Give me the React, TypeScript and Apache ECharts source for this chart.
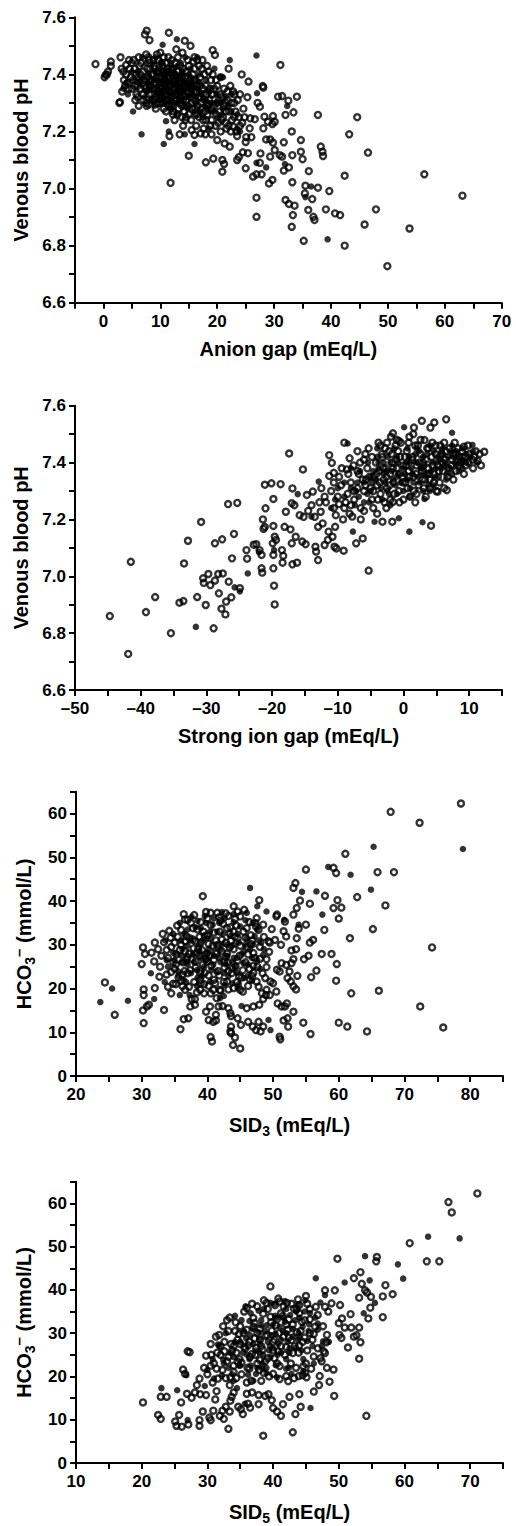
import React, { useEffect, useRef } from "react";
import * as echarts from "echarts";

// Panel 1: Anion gap vs venous pH
const agOpen: number[][] = [
[-1.4,7.436],[0.4,7.398],[0.8,7.41],[1.3,7.43],[1.3,7.445],[0.6,7.40],[0.2,7.39],[2.8,7.30],[2.9,7.303],[3.0,7.46],[4.0,7.433],[3.5,7.41],[3.3,7.34],[4.2,7.37],[4.5,7.45],[5.0,7.44],[5.5,7.42],[5.0,7.35],[5.8,7.33],[6.2,7.46],[6.5,7.40],[7.0,7.33],[7.2,7.38],[7.5,7.30],[7.6,7.553],[7.3,7.54],[8.1,7.52],[8.0,7.45],[8.3,7.36],[8.7,7.31],[9.0,7.42],[9.3,7.39],[9.6,7.34],[10.0,7.476],[10.2,7.44],[10.4,7.30],[10.8,7.38],[11.0,7.35],[11.5,7.546],[11.3,7.42],[11.6,7.184],[11.8,7.02],[12.0,7.32],[12.3,7.27],[12.5,7.40],[12.8,7.488],[13.0,7.36],[13.4,7.19],[13.5,7.30],[13.9,7.476],[14.0,7.42],[14.3,7.518],[14.5,7.25],[14.8,7.34],[15.0,7.115],[15.3,7.50],[15.5,7.205],[15.8,7.445],[15.6,7.28],[16.0,7.188],[16.2,7.38],[16.5,7.26],[16.8,7.43],[17.1,7.193],[17.0,7.32],[17.5,7.24],[18.0,7.092],[18.2,7.30],[18.5,7.41],[18.8,7.22],[19.2,7.485],[19.3,7.105],[19.6,7.468],[19.5,7.35],[19.8,7.26],[20.0,7.17],[20.3,7.31],[20.6,7.20],[20.9,7.10],[20.9,7.059],[21.2,7.086],[21.3,7.158],[21.5,7.27],[21.8,7.34],[22.2,7.147],[22.5,7.30],[22.8,7.217],[23.0,7.25],[23.5,7.184],[23.5,7.10],[23.8,7.11],[24.0,7.33],[24.3,7.40],[24.5,7.127],[24.6,7.28],[25.0,7.071],[25.0,7.163],[25.1,7.18],[25.4,7.124],[25.3,7.32],[25.5,7.375],[25.7,7.211],[25.8,7.246],[26.0,7.18],[26.3,7.042],[26.6,7.243],[26.9,7.05],[26.9,6.968],[26.9,6.901],[27.1,7.30],[27.5,7.287],[27.5,7.09],[27.6,7.123],[27.8,7.05],[28.0,7.359],[28.1,7.354],[28.1,7.211],[28.3,7.252],[28.6,7.172],[28.9,7.234],[29.1,7.018],[29.3,7.172],[29.3,7.112],[29.7,7.03],[29.7,7.226],[29.8,7.254],[29.8,7.161],[30.1,7.234],[30.1,7.135],[30.7,7.322],[31.0,7.117],[31.1,7.433],[31.4,7.324],[31.4,7.112],[31.7,7.162],[31.7,7.063],[32.0,7.258],[32.0,6.96],[32.5,7.308],[32.6,7.074],[32.6,6.946],[33.1,7.20],[33.1,6.866],[33.2,7.117],[33.2,7.022],[33.3,6.907],[33.4,7.267],[33.6,6.94],[34.0,7.322],[34.7,7.17],[34.7,7.129],[35.0,7.103],[35.2,6.817],[35.4,6.983],[35.5,7.01],[36.0,6.925],[36.1,7.061],[36.7,6.963],[36.9,6.901],[37.1,6.89],[37.7,7.003],[37.7,7.258],[38.2,7.147],[38.5,7.129],[38.6,7.114],[39.1,6.927],[39.7,6.991],[40.7,6.913],[41.6,6.907],[42.4,7.045],[42.4,6.80],[43.2,7.19],[44.6,7.25],[45.9,6.874],[46.5,7.126],[47.9,6.927],[49.9,6.728],[53.8,6.86],[56.4,7.05],[63.1,6.975],
[5.2,7.38],[5.7,7.40],[6.0,7.36],[6.3,7.43],[6.8,7.37],[7.0,7.41],[7.4,7.35],[7.8,7.39],[8.0,7.33],[8.2,7.42],[8.5,7.38],[8.8,7.35],[9.0,7.37],[9.2,7.32],[9.5,7.41],[9.8,7.37],[10.0,7.39],[10.3,7.35],[10.5,7.41],[10.6,7.33],[10.9,7.37],[11.2,7.39],[11.4,7.31],[11.6,7.36],[11.9,7.34],[12.1,7.38],[12.2,7.42],[12.6,7.35],[12.9,7.31],[13.1,7.39],[13.3,7.34],[13.6,7.37],[13.8,7.29],[14.1,7.35],[14.3,7.39],[14.6,7.31],[14.9,7.37],[15.1,7.33],[15.4,7.36],[15.7,7.40],[16.0,7.31],[16.3,7.34],[16.6,7.29],[17.0,7.36],[17.3,7.28],[17.6,7.33],[18.0,7.36],[18.3,7.26],[18.6,7.31],[19.0,7.24],[19.4,7.29],[19.8,7.38],[20.2,7.23],[20.5,7.33],[21.0,7.25],[21.5,7.30],[22.0,7.22],[22.3,7.36],[23.0,7.30],[23.4,7.20],[24.0,7.22],[9.6,7.45],[11.0,7.44],[12.0,7.45],[13.5,7.43],[15.0,7.43],[16.5,7.45],[17.8,7.40],[6.0,7.32],[7.6,7.29],[11.0,7.27],[12.5,7.24],[13.0,7.26],[14.0,7.22],[16.3,7.22],[17.9,7.19],[19.0,7.19],[21.5,7.23],[22.0,7.42],[20.6,7.39],[4.8,7.39],[3.8,7.36],[8.0,7.295],[10.2,7.32],[13.0,7.33],[15.0,7.26]
];
const agCoreOpen: number[][] = [
[7.2,7.36],[7.7,7.42],[8.1,7.38],[8.4,7.33],[8.6,7.40],[8.9,7.43],[9.1,7.35],[9.4,7.30],[9.7,7.39],[9.9,7.33],[10.1,7.36],[10.4,7.43],[10.7,7.36],[10.9,7.31],[11.1,7.41],[11.3,7.34],[11.5,7.29],[11.7,7.39],[11.9,7.42],[12.2,7.35],[12.4,7.31],[12.6,7.38],[12.8,7.33],[13.0,7.41],[13.2,7.37],[13.4,7.32],[13.6,7.34],[13.8,7.39],[14.0,7.31],[14.2,7.36],[14.5,7.41],[14.7,7.34],[14.9,7.29],[15.2,7.38],[15.4,7.32],[15.6,7.35],[15.9,7.38],[16.1,7.28],[16.4,7.36],[16.7,7.32],[17.0,7.39],[17.2,7.30],[17.5,7.35],[17.8,7.27],[18.1,7.33],[18.4,7.29],[18.7,7.35],[19.0,7.28],[19.3,7.33],[19.7,7.22],[20.0,7.30],[20.4,7.27],[20.8,7.32],[21.2,7.29],[21.6,7.21],[22.1,7.27],[22.6,7.24],[23.2,7.27],[23.8,7.25],[24.4,7.23],[10.0,7.30],[12.0,7.29],[11.0,7.33],[14.2,7.27],[6.5,7.35],[6.0,7.39],[5.5,7.36],[4.6,7.42],[4.0,7.40],[3.6,7.38],[8.8,7.45],[10.6,7.46],[7.5,7.47],[12.6,7.44],[17.3,7.42],[18.9,7.38],[16.0,7.42],[9.2,7.28],[15.5,7.30],[13.2,7.28],
[3.2,7.42],[4.4,7.35],[5.3,7.45],[6.6,7.44],[7.9,7.46],[9.4,7.47],[11.4,7.46],[13.1,7.46],[14.8,7.45],[16.0,7.46],[17.4,7.45],[18.2,7.43],[19.2,7.40],[20.0,7.36],[21.2,7.35],[22.8,7.34],[23.6,7.31],[19.0,7.33],[18.0,7.24],[16.8,7.25],[15.4,7.24],[13.8,7.25],[12.2,7.26],[10.6,7.28],[9.0,7.31],[7.0,7.31],[6.2,7.29],[5.6,7.31],[20.8,7.24],[22.4,7.20],[23.0,7.33],[24.8,7.25],[21.8,7.31],[17.6,7.21],[16.2,7.26],[14.4,7.24]
];
const agFilled: number[][] = [
[10.4,7.504],[12.9,7.523],[26.9,7.466],[22.2,7.45],[5.2,7.27],[6.7,7.19],[10.6,7.156],[11.5,7.20],[14.3,7.19],[16.0,7.156],[11.0,7.236],[13.0,7.26],[27.0,7.334],[26.9,7.09],[28.6,7.074],[32.3,7.289],[31.9,7.086],[35.5,6.97],[36.5,7.007],[39.4,6.822],[6.8,7.46],[3.5,7.35],[4.3,7.33],[7.5,7.44],[9.2,7.46],[10.3,7.40],[12.0,7.37],[13.5,7.38],[14.4,7.46],[15.5,7.35],[16.5,7.46],[17.5,7.25],[18.5,7.21],[19.5,7.42],[20.5,7.39],[21.0,7.39],[22.5,7.33],[23.5,7.21],[8.0,7.35],[11.8,7.33],[13.8,7.41],[12.5,7.30],[9.0,7.38],[14.8,7.28],[17.0,7.27],[24.0,7.20],
[8.5,7.36],[9.5,7.33],[10.0,7.37],[10.8,7.34],[11.2,7.37],[11.6,7.40],[12.3,7.33],[12.7,7.36],[13.3,7.36],[13.6,7.31],[14.0,7.34],[14.6,7.37],[15.0,7.35],[15.8,7.33],[16.5,7.35],[17.2,7.33],[18.0,7.31],[19.0,7.30],[20.0,7.25],[21.0,7.28],[9.8,7.41],[12.8,7.40],[11.3,7.31],[10.5,7.38],[13.0,7.345],[14.3,7.32],[7.8,7.37],[6.5,7.38],[16.2,7.30],[19.8,7.30]
];
const agCoreFilled: number[][] = [
[7.5,7.34],[8.0,7.40],[8.3,7.31],[8.8,7.38],[9.2,7.35],[9.6,7.38],[9.9,7.31],[10.2,7.34],[10.5,7.32],[10.8,7.40],[11.0,7.38],[11.4,7.35],[11.8,7.37],[12.0,7.31],[12.2,7.40],[12.5,7.38],[12.9,7.34],[13.2,7.39],[13.5,7.33],[13.8,7.36],[14.1,7.38],[14.4,7.35],[14.8,7.32],[15.2,7.37],[15.5,7.33],[15.9,7.36],[16.3,7.32],[16.8,7.34],[17.5,7.31],[18.2,7.28],[18.8,7.27],[19.5,7.27],[20.5,7.30],[22.0,7.29],[9.0,7.41],[10.0,7.42],[11.0,7.41],[12.0,7.42],[13.0,7.43],[14.0,7.40],[15.0,7.40],[16.0,7.38],[17.0,7.37],[7.0,7.39],[6.0,7.41],[5.5,7.38],[11.6,7.29],[13.0,7.30],[14.6,7.29],[10.0,7.335],
[4.0,7.37],[5.0,7.41],[6.2,7.37],[7.2,7.32],[8.6,7.44],[10.2,7.44],[11.8,7.44],[13.6,7.44],[15.3,7.42],[16.8,7.40],[18.0,7.38],[19.0,7.35],[20.0,7.33],[21.5,7.32],[22.5,7.27],[23.5,7.26],[17.8,7.29],[16.0,7.27],[14.2,7.29],[12.0,7.28],[10.6,7.30],[9.0,7.29],[15.4,7.39],[18.6,7.34],[20.8,7.26]
];

// Panel 2: Strong ion gap vs venous pH
const sigOpen: number[][] = [
[-44.7,6.86],[-41.9,6.727],[-41.5,7.051],[-39.2,6.874],[-37.8,6.927],[-35.4,6.80],[-34.1,6.907],[-33.5,6.913],[-33.4,7.045],[-32.8,7.125],[-31.4,6.927],[-30.8,7.191],[-30.5,6.993],[-30.4,6.977],[-30.1,6.899],[-29.7,7.008],[-29.4,6.969],[-28.7,6.985],[-28.7,7.116],[-28.9,6.817],[-28.2,7.008],[-28.1,6.94],[-27.6,7.13],[-27.5,7.01],[-27.7,6.886],[-27.1,6.866],[-27.0,6.911],[-26.7,7.254],[-26.6,6.981],[-26.2,6.926],[-26.1,7.063],[-25.8,7.149],[-24.9,6.958],[-25.3,7.258],[-23.9,7.092],[-23.8,7.062],[-22.8,7.111],[-22.4,7.113],[-21.9,7.092],[-21.6,7.075],[-21.4,7.20],[-21.1,7.174],[-21.3,7.167],[-21.6,7.028],[-21.5,7.013],[-21.0,7.239],[-21.1,7.322],[-20.1,7.327],[-19.8,7.075],[-19.9,7.116],[-19.6,7.139],[-19.8,7.177],[-19.8,7.272],[-19.4,7.128],[-19.8,7.028],[-19.7,6.967],[-19.6,6.901],[-18.7,7.324],[-17.9,7.227],[-18.1,7.174],[-18.5,7.092],[-18.3,7.072],[-18.4,7.048],[-17.4,7.432],[-16.9,7.309],[-17.0,7.257],[-16.6,7.25],[-17.2,7.165],[-17.0,7.116],[-16.9,7.042],[-16.2,7.048],[-16.4,7.139],[-15.3,7.376],[-15.8,7.215],[-15.4,7.122],[-14.9,7.113],[-15.2,7.209],[-14.7,7.286],[-13.8,7.298],[-13.4,7.104],[-13.3,7.087],[-13.0,7.057],[-13.5,7.209],[-13.0,7.174],[-12.6,7.227],[-12.3,7.186],[-11.3,7.426],[-10.9,7.399],[-11.3,7.353],[-10.6,7.364],[-11.4,7.157],[-11.5,7.128],[-12.0,7.11],[-10.8,7.139],[-10.5,7.104],[-10.2,7.098],[-9.1,7.09],[-10.4,7.174],[-9.8,7.254],[-10.3,7.215],[-9.0,7.47],[-8.6,7.376],[-8.2,7.415],[-7.2,7.116],[-6.2,7.133],[-5.3,7.02],[-5.3,7.45],[-3.2,7.192],[-1.7,7.192],[-1.6,7.262],[4.2,7.178],[5.2,7.298],[6.6,7.303],[-1.9,7.491],[-1.6,7.503],[-0.7,7.476],[0.9,7.491],[1.6,7.523],[2.8,7.547],[3.2,7.479],[4.1,7.523],[4.7,7.541],[6.5,7.552],[11.3,7.406],[12.3,7.438],[9.2,7.456],[8.5,7.421],
[-14.0,7.25],[-12.0,7.28],[-11.0,7.30],[-10.0,7.28],[-9.5,7.32],[-9.0,7.24],[-8.5,7.29],[-8.0,7.33],[-7.5,7.27],[-7.0,7.31],[-6.8,7.36],[-6.5,7.24],[-6.0,7.30],[-5.7,7.34],[-5.5,7.38],[-5.0,7.31],[-4.8,7.27],[-4.5,7.35],[-4.2,7.40],[-4.0,7.32],[-3.7,7.37],[-3.5,7.29],[-3.2,7.42],[-3.0,7.34],[-2.7,7.38],[-2.5,7.31],[-2.2,7.44],[-2.0,7.36],[-1.7,7.40],[-1.5,7.33],[-1.2,7.46],[-1.0,7.38],[-0.7,7.30],[-0.5,7.42],[-0.2,7.35],[0.0,7.39],[0.3,7.33],[0.5,7.44],[0.8,7.37],[1.0,7.28],[1.3,7.41],[1.5,7.35],[1.8,7.46],[2.0,7.39],[2.3,7.32],[2.6,7.43],[2.8,7.37],[3.0,7.40],[3.3,7.34],[3.6,7.45],[3.8,7.38],[4.0,7.31],[4.3,7.42],[4.6,7.36],[4.9,7.46],[5.2,7.39],[5.5,7.33],[5.8,7.43],[6.0,7.37],[6.3,7.41],[6.7,7.35],[7.0,7.45],[7.3,7.39],[7.6,7.43],[8.0,7.37],[8.3,7.45],[8.7,7.40],[9.0,7.42],[9.5,7.39],[10.0,7.43],[10.5,7.41],[11.0,7.44],[-2.0,7.27],[0.0,7.27],[2.0,7.29],[-7.8,7.21],[-6.5,7.20],[-4.0,7.22],[-9.2,7.20],[-3.5,7.46],[-6.0,7.41],[-8.0,7.25],[-12.5,7.31],[-14.5,7.23],[-7.0,7.37],[-1.0,7.48],[1.5,7.50],[-2.5,7.47]
];
const sigCoreOpen: number[][] = [
[-5.8,7.32],[-5.2,7.35],[-4.6,7.30],[-4.1,7.36],[-3.6,7.33],[-3.1,7.38],[-2.6,7.35],[-2.1,7.32],[-1.6,7.38],[-1.1,7.41],[-0.6,7.36],[-0.1,7.33],[0.4,7.39],[0.9,7.35],[1.4,7.42],[1.9,7.36],[2.4,7.40],[2.9,7.34],[3.4,7.41],[3.9,7.36],[4.4,7.39],[4.9,7.43],[5.4,7.37],[5.9,7.40],[6.4,7.44],[6.9,7.38],[7.4,7.41],[7.9,7.43],[8.4,7.39],[8.9,7.44],[9.4,7.42],[9.9,7.40],[-3.9,7.27],[-2.9,7.26],[-1.4,7.29],[0.6,7.31],[1.6,7.30],[3.1,7.31],[4.6,7.33],[-7.5,7.30],[-8.8,7.26],[-6.2,7.34],[-0.8,7.44],[2.2,7.46],[3.8,7.45],[5.6,7.46],[-1.8,7.43],[0.2,7.42],[-3.3,7.43],[4.0,7.34],
[-11.8,7.26],[-10.6,7.33],[-9.8,7.35],[-8.4,7.36],[-7.6,7.39],[-6.6,7.40],[-5.8,7.43],[-4.8,7.42],[-3.8,7.47],[-2.8,7.45],[-0.4,7.47],[0.8,7.47],[2.6,7.48],[4.4,7.47],[6.2,7.47],[7.8,7.47],[9.8,7.46],[10.8,7.42],[11.6,7.43],[10.6,7.38],[9.2,7.36],[7.6,7.34],[6.2,7.31],[5.0,7.30],[3.4,7.28],[1.8,7.26],[-0.6,7.26],[-2.6,7.24],[-4.6,7.24],[-6.0,7.23],[-8.2,7.22],[-10.6,7.24],[-12.8,7.26],[-9.4,7.38],[-7.0,7.44],[11.8,7.39]
];
const sigFilled: number[][] = [
[-31.6,6.822],[-25.7,6.961],[-24.9,6.947],[-23.7,7.01],[-22.0,7.085],[-19.7,7.092],[-16.1,7.289],[-12.9,7.333],[-8.5,7.467],[-7.7,7.157],[-4.4,7.192],[-2.0,7.25],[-0.7,7.204],[0.9,7.157],[2.9,7.19],[3.2,7.272],[0.1,7.524],[7.4,7.505],[10.5,7.462],[-14.0,7.21],[-11.0,7.24],[-9.0,7.28],[-6.0,7.26],[-5.0,7.35],[-3.0,7.40],[-1.0,7.35],[1.0,7.40],[3.0,7.36],[5.0,7.40],[6.5,7.34],[8.0,7.39],[9.5,7.40],[-4.0,7.45],[2.0,7.45],[-7.0,7.33],[4.0,7.30],[6.0,7.45],[-2.5,7.30],[-10.0,7.31],
[-4.8,7.33],[-3.8,7.38],[-2.8,7.33],[-1.8,7.37],[-0.8,7.40],[0.2,7.36],[1.2,7.38],[2.2,7.35],[3.2,7.39],[4.2,7.37],[5.2,7.42],[6.2,7.39],[7.2,7.44],[8.2,7.42],[-5.5,7.29],[-1.2,7.32],[0.8,7.42],[2.6,7.38],[4.8,7.35],[6.8,7.42],[-3.0,7.36],[1.5,7.33],[-2.0,7.40],[3.6,7.43],[9.0,7.41],[-6.8,7.28],[-8.0,7.31],[0.0,7.30],[5.8,7.38],[7.8,7.40]
];
const sigCoreFilled: number[][] = [
[-5.0,7.30],[-4.2,7.34],[-3.4,7.31],[-2.6,7.37],[-1.6,7.34],[-0.8,7.36],[0.0,7.38],[0.6,7.34],[1.4,7.36],[2.0,7.40],[2.8,7.38],[3.6,7.36],[4.4,7.40],[5.0,7.38],[5.6,7.41],[6.4,7.40],[7.0,7.38],[7.6,7.42],[8.6,7.40],[9.6,7.43],[-0.4,7.33],[1.0,7.31],[2.4,7.33],[3.8,7.32],[-2.2,7.29],[-3.8,7.40],[-1.0,7.42],[0.4,7.40],[1.8,7.43],[3.0,7.42],[4.6,7.44],[6.0,7.43],[8.0,7.44],[10.2,7.42],[-6.0,7.33],[-7.2,7.30],[-4.6,7.37],[5.4,7.35],[7.4,7.36],[9.0,7.38],
[-9.0,7.33],[-8.0,7.38],[-6.6,7.37],[-5.4,7.40],[-4.0,7.42],[-2.4,7.42],[-1.4,7.45],[0.6,7.45],[2.4,7.44],[4.0,7.46],[5.8,7.44],[7.4,7.46],[9.0,7.45],[10.6,7.44],[8.4,7.37],[6.6,7.36],[4.6,7.32],[3.0,7.30],[1.0,7.28],[-1.0,7.29],[-3.2,7.27],[-5.2,7.26],[-7.4,7.25],[-10.4,7.27],[11.2,7.40]
];

// Panel 3: SID3 vs HCO3-
const sid3Open: number[][] = [
[24.4,21.4],[25.9,14.0],[30.2,29.4],[30.0,25.6],[30.3,19.8],[30.3,18.5],[30.2,15.0],[30.3,12.1],[30.8,15.9],[31.1,16.3],[30.5,27.9],[31.5,28.2],[31.9,26.2],[32.0,30.5],[32.0,20.1],[32.7,22.7],[33.2,32.5],[33.4,15.1],[34.5,18.9],[34.8,21.1],[35.9,10.7],[36.4,13.0],[37.1,13.2],[37.0,35.7],[37.4,15.9],[38.1,16.3],[39.3,41.1],[39.8,14.7],[40.4,15.9],[40.2,12.8],[40.5,8.9],[40.7,7.9],[40.9,12.4],[41.3,14.0],[41.7,15.9],[41.3,12.7],[40.5,37.3],[41.5,37.3],[42.3,16.0],[43.2,15.5],[43.5,14.4],[43.6,13.7],[43.6,11.3],[43.5,10.2],[43.6,9.8],[43.9,7.1],[44.2,8.8],[45.0,6.3],[44.6,13.2],[45.1,11.7],[46.0,15.5],[46.2,12.4],[46.9,11.3],[47.4,10.5],[47.8,12.4],[48.1,10.2],[48.5,11.3],[47.0,15.9],[47.9,16.3],[48.5,17.6],[48.9,18.5],[49.5,18.5],[50.0,21.2],[50.5,19.3],[50.7,16.6],[51.3,15.9],[51.0,9.0],[51.1,8.4],[51.8,15.9],[52.1,16.6],[52.2,13.2],[52.3,11.3],[51.6,12.7],[53.1,14.7],[52.5,23.9],[53.1,20.5],[53.5,19.8],[53.7,22.9],[52.8,25.8],[53.1,26.7],[52.8,28.7],[53.5,29.0],[53.6,31.5],[53.1,36.9],[53.6,38.4],[53.1,43.0],[53.4,44.1],[54.1,40.1],[53.9,33.7],[55.0,34.6],[54.7,26.7],[55.4,27.5],[55.6,30.5],[56.1,31.1],[55.8,22.6],[56.6,24.1],[54.6,12.2],[55.7,9.6],[55.0,47.2],[55.6,39.4],[57.9,41.2],[57.8,33.4],[57.4,27.9],[59.2,47.6],[59.6,46.4],[59.2,38.4],[59.8,40.2],[60.4,38.5],[60.0,36.0],[59.7,25.6],[59.6,21.8],[58.9,27.9],[60.0,12.2],[61.3,11.3],[61.0,50.8],[61.7,31.5],[61.9,18.9],[62.8,40.9],[64.3,10.2],[65.2,33.6],[65.9,46.6],[66.1,19.5],[67.1,39.0],[67.9,60.4],[68.4,46.6],[72.3,57.9],[72.4,15.9],[74.2,29.4],[75.9,11.1],[78.6,62.3],
[44.0,38.8],[43.2,36.6],[44.2,35.9],[47.9,40.2],[47.5,36.1],[47.3,35.0],[48.5,34.6],[50.3,31.1],[49.5,30.5],[50.6,36.9],[50.5,36.5],[51.8,35.3],[51.6,33.1],[52.0,31.9],[51.2,30.0],[51.3,25.8],[50.6,24.3],[51.0,23.9],[52.0,25.4],[52.2,22.4],[52.7,21.6],[49.0,26.7],[49.0,24.9],[49.6,21.6],[49.0,19.7],[48.3,18.9],[49.3,30.8],[47.0,28.1],[46.8,22.9],[47.5,21.6],[46.5,22.0],[45.0,19.7],[44.0,20.1],[45.4,19.3],[41.9,19.7],[40.9,19.7],[41.4,17.8],[40.5,18.9],[39.5,18.9],[38.9,19.7],[38.1,17.6],[38.4,19.1],[37.6,17.6],[36.6,19.7],[36.2,20.5],[38.9,22.0],[38.9,23.5],
[34.0,27.0],[34.5,29.5],[35.0,24.5],[35.3,27.8],[35.6,22.5],[36.0,30.0],[36.3,26.0],[36.6,28.5],[37.0,23.5],[37.3,31.5],[37.6,26.8],[37.9,29.2],[38.2,24.8],[38.5,33.5],[38.8,27.5],[39.0,30.5],[39.3,25.5],[39.6,32.0],[39.9,28.0],[40.2,23.0],[40.5,34.5],[40.8,29.8],[41.0,26.5],[41.3,31.0],[41.6,24.0],[41.9,33.0],[42.2,28.5],[42.5,21.5],[42.8,30.5],[43.1,26.0],[43.4,32.5],[43.7,23.5],[44.0,29.0],[44.3,25.0],[44.6,31.5],[44.9,27.5],[45.2,22.5],[45.5,33.0],[45.8,26.0],[46.1,29.5],[46.4,24.5],[46.8,31.0],[47.2,27.0],[47.6,25.0],[48.0,29.5],[48.4,23.5],[36.5,24.0],[38.0,21.5],[39.5,21.0],[41.0,22.0],[42.0,35.5],[43.5,34.0],[40.0,36.0],[37.8,33.8],[36.8,32.0],[35.5,31.8],[34.8,26.0],[33.8,28.8],[33.0,27.5],[32.5,29.0],[42.0,19.5],[44.5,21.5],[46.0,33.8],[45.0,36.5],[39.0,35.2],[41.8,36.3],[38.2,30.8],[40.0,26.2],[42.6,24.8],[44.0,33.0],[36.0,21.8],[43.0,28.0],[39.2,28.8],[41.2,28.3],[37.2,28.0]
];
const sid3CoreOpen: number[][] = [
[35.2,25.5],[35.8,28.8],[36.2,23.2],[36.6,30.8],[37.0,27.2],[37.4,24.2],[37.8,31.2],[38.2,26.2],[38.6,29.0],[39.0,24.0],[39.4,33.0],[39.8,26.8],[40.2,30.2],[40.6,25.2],[41.0,32.8],[41.4,28.0],[41.8,23.0],[42.2,31.2],[42.6,26.2],[43.0,33.8],[43.4,29.4],[43.8,24.6],[44.2,31.8],[44.6,26.4],[45.0,29.8],[45.4,24.2],[45.8,31.6],[46.2,27.8],[46.6,30.2],[47.0,25.2],[36.0,33.4],[37.5,35.0],[38.8,31.8],[40.3,27.6],[41.6,30.0],[42.8,27.2],[43.6,31.0],[44.8,22.8],[39.6,23.6],[41.2,21.2],[43.2,24.0],[34.5,23.8],[35.0,30.5],[36.8,26.6],[38.4,28.2],[40.0,32.2],[42.4,34.8],[44.4,34.4],[46.4,35.2],[47.8,33.4],
[32.8,25.0],[33.4,30.6],[34.2,33.2],[35.4,34.4],[36.6,35.8],[38.0,36.8],[39.8,37.5],[42.8,37.2],[44.6,37.6],[46.6,32.2],[47.4,34.2],[48.6,31.8],[49.4,28.4],[48.8,22.4],[47.8,20.4],[46.2,20.6],[43.2,19.8],[40.2,20.6],[37.2,20.4],[35.2,21.0],[33.8,23.2],[34.4,31.6],[48.0,26.8],[49.8,33.6],[47.0,23.6],[36.4,37.0],[45.6,38.0],[43.0,21.6],[39.0,21.2],[34.0,20.4]
];
const sid3Filled: number[][] = [
[23.7,16.9],[25.5,20.0],[27.9,17.2],[31.9,17.6],[35.8,18.5],[37.3,18.5],[45.2,16.0],[49.3,12.8],[49.6,10.5],[54.4,42.1],[53.9,34.6],[56.6,42.2],[57.5,36.9],[58.4,47.8],[61.8,46.0],[64.9,42.6],[65.3,52.4],[78.9,51.9],[46.0,37.3],[46.5,43.0],[47.6,38.8],[46.9,35.0],[49.0,37.6],[51.7,35.7],[48.5,27.7],[42.5,18.3],[41.9,17.8],[44.6,20.1],[31.4,23.5],[33.5,21.5],[35.2,28.0],[37.0,25.5],[39.0,27.0],[40.5,31.5],[41.8,35.0],[43.0,30.0],[44.5,27.0],[46.2,25.5],[47.8,31.0],[38.5,22.5],[42.0,26.0],[45.5,28.5],
[36.0,27.5],[37.0,29.8],[38.0,26.0],[38.8,30.0],[39.5,25.0],[40.2,29.0],[41.0,27.5],[41.5,33.0],[42.2,30.0],[42.8,25.5],[43.5,32.0],[44.0,27.0],[44.8,30.5],[45.5,25.8],[46.5,29.0],[37.5,23.5],[39.8,31.5],[40.6,24.2],[42.0,28.8],[43.2,22.8],[45.0,34.2],[36.5,32.5],[38.2,34.0],[41.0,36.0],[47.0,30.0],[35.0,26.5],[43.8,26.0],[40.0,28.0],[39.0,33.8],[44.5,23.6]
];
const sid3CoreFilled: number[][] = [
[35.5,24.0],[36.2,29.0],[36.8,26.0],[37.4,31.0],[37.8,27.8],[38.4,24.2],[38.8,28.5],[39.3,31.0],[39.8,26.5],[40.4,33.0],[40.9,25.5],[41.3,30.0],[41.8,27.0],[42.4,32.5],[42.6,23.5],[43.0,27.5],[43.6,29.6],[44.2,25.0],[44.6,32.5],[45.2,27.8],[45.8,30.0],[46.2,23.0],[46.8,27.0],[47.2,32.0],[36.0,31.0],[37.0,33.5],[38.5,35.5],[39.8,35.0],[40.8,34.6],[42.6,36.0],[44.0,35.2],[39.2,22.8],[41.4,23.8],[43.8,21.2],[45.6,22.4],[34.8,28.2],[34.0,25.0],[36.4,22.0],[47.6,26.5],[48.2,30.5],
[33.8,26.5],[34.8,32.5],[35.8,35.0],[37.6,36.4],[39.6,36.6],[42.2,37.5],[44.0,37.0],[45.8,35.6],[47.6,33.5],[48.6,29.0],[48.0,24.5],[46.8,21.8],[44.8,21.0],[42.6,20.8],[40.4,21.6],[38.4,20.6],[36.8,21.4],[35.6,23.0],[33.6,31.0],[46.0,31.4],[36.0,26.0],[44.0,30.0]
];

// Panel 4: SID5 vs HCO3-
const sid5Open: number[][] = [
[20.2,14.0],[22.5,11.1],[22.9,10.2],[22.9,15.3],[23.8,15.3],[25.1,9.6],[25.3,8.6],[26.1,8.4],[25.7,11.1],[26.0,14.0],[26.3,21.6],[26.6,20.6],[27.3,25.6],[27.1,8.9],[26.9,16.0],[27.6,15.1],[28.1,16.3],[28.4,18.0],[28.8,19.5],[28.9,15.9],[28.8,9.9],[28.8,8.6],[29.3,11.9],[29.8,15.7],[30.3,10.5],[30.5,9.9],[30.9,12.1],[31.2,14.7],[31.4,16.6],[31.9,10.9],[32.3,12.1],[32.5,10.2],[32.8,13.0],[33.2,7.9],[33.4,11.9],[33.5,14.4],[33.4,18.0],[33.7,15.3],[34.0,16.3],[34.7,13.0],[35.1,12.4],[35.4,11.3],[36.2,13.7],[36.5,12.8],[36.0,16.0],[36.8,16.3],[37.8,13.6],[37.8,15.7],[38.5,6.3],[38.8,15.5],[39.3,15.9],[39.8,14.5],[40.0,12.7],[40.6,11.9],[41.2,10.9],[41.5,13.6],[42.0,20.1],[42.3,18.9],[42.5,15.3],[43.0,7.1],[43.4,11.3],[44.0,15.9],[44.2,13.0],[43.9,20.1],[44.5,20.3],[44.9,20.8],[45.1,19.8],[46.2,16.5],[47.0,18.0],[47.1,20.1],[47.4,23.5],[47.9,25.4],[48.2,22.0],[48.6,18.8],[47.7,25.8],[48.1,27.9],[49.2,21.6],[49.3,15.5],[39.6,40.8],[45.0,38.6],[46.5,36.1],[47.9,39.9],[48.4,35.0],[47.9,36.1],[48.9,36.9],[49.4,39.9],[50.2,36.5],[49.8,47.2],[50.0,32.3],[50.5,33.4],[50.1,29.6],[50.9,31.3],[51.4,26.7],[50.4,28.9],[51.8,34.4],[51.9,31.3],[52.3,42.7],[52.3,29.2],[52.7,29.5],[53.1,31.3],[53.1,38.2],[53.3,44.1],[53.3,27.9],[53.1,24.1],[53.5,41.4],[54.0,39.9],[54.2,10.9],[54.3,39.4],[54.5,33.4],[54.9,38.4],[54.8,35.9],[55.8,47.6],[55.7,46.6],[56.7,38.5],[56.7,33.7],[57.1,41.1],[58.2,39.0],[60.8,50.8],[63.4,46.6],[65.3,46.6],[66.7,60.3],[67.2,57.9],[71.1,62.3],
[29.5,22.0],[30.0,20.5],[30.5,27.5],[31.0,23.0],[31.3,29.2],[31.6,19.5],[32.0,25.0],[32.3,21.5],[32.6,28.0],[33.0,23.5],[33.2,30.5],[33.5,19.8],[33.8,26.0],[34.0,22.5],[34.3,32.5],[34.6,28.5],[34.9,24.0],[35.2,20.5],[35.5,30.0],[35.8,26.5],[36.1,22.0],[36.4,28.0],[36.7,19.0],[37.0,33.5],[37.3,25.0],[37.6,30.0],[37.9,21.5],[38.2,27.0],[38.5,34.5],[38.8,23.5],[39.1,29.5],[39.4,20.0],[39.7,32.5],[40.0,26.0],[40.3,36.5],[40.6,23.0],[40.9,30.0],[41.2,27.0],[41.5,34.0],[41.8,25.0],[42.1,37.0],[42.4,29.0],[42.7,23.0],[43.0,32.0],[43.3,27.0],[43.6,35.5],[43.9,25.5],[44.2,30.5],[44.5,28.0],[44.8,33.0],[45.2,26.0],[45.6,30.0],[46.0,28.5],[46.4,31.5],[46.8,26.5],[36.0,35.8],[37.0,31.5],[35.0,27.5],[34.2,30.5],[32.0,27.0],[31.5,25.5],[30.5,22.5],[39.0,37.0],[41.0,37.3],[42.0,32.0],[40.2,28.5],[38.0,28.5],[36.5,24.5],[43.5,22.0],[45.0,23.0],[44.0,36.5],[27.0,25.8],[34.0,27.0]
];
const sid5CoreOpen: number[][] = [
[33.2,24.5],[33.6,27.5],[34.0,21.0],[34.4,25.5],[34.8,29.8],[35.2,23.2],[35.6,26.8],[36.0,30.8],[36.4,21.8],[36.8,25.2],[37.2,28.8],[37.6,23.0],[38.0,31.0],[38.4,26.2],[38.8,29.4],[39.2,24.2],[39.6,33.8],[40.0,28.0],[40.4,31.8],[40.8,25.8],[41.2,34.6],[41.6,29.2],[42.0,26.8],[42.4,33.2],[42.8,28.4],[43.2,35.6],[43.6,30.2],[44.0,27.2],[44.4,32.6],[44.8,29.0],[39.2,35.6],[40.2,24.2],[41.0,22.4],[38.6,20.8],[42.2,30.8],[43.0,25.4],[37.2,32.4],[36.2,27.2],[35.0,31.6],[39.8,30.6],[41.6,36.2],[40.6,33.2],[38.0,23.8],[44.0,34.6],[45.6,33.2],[46.2,29.8],[34.6,23.4],[32.6,25.8],[37.4,26.6],[42.8,36.8],
[29.8,24.8],[30.6,25.0],[31.4,21.8],[32.4,31.6],[33.4,33.6],[35.6,35.0],[37.6,36.2],[38.6,37.6],[40.8,38.0],[43.8,37.8],[45.6,35.6],[46.8,34.2],[47.6,31.6],[48.2,29.6],[47.2,24.2],[45.8,21.8],[43.2,19.6],[41.0,19.4],[38.2,19.0],[36.0,18.6],[34.4,19.6],[32.8,19.6],[30.8,18.6],[31.8,29.6],[46.2,24.6],[44.6,22.4],[36.8,36.8],[40.0,20.6],[45.2,36.8],[33.0,33.0]
];
const sid5Filled: number[][] = [
[23.0,17.3],[25.4,16.8],[26.8,20.3],[27.0,9.9],[29.6,17.8],[34.5,17.3],[35.7,13.7],[45.7,12.7],[44.9,37.6],[46.5,42.7],[47.2,37.1],[47.9,38.8],[47.6,28.1],[50.9,41.7],[53.8,34.6],[54.0,47.8],[54.7,42.2],[55.5,37.0],[59.0,45.9],[59.8,42.6],[63.6,52.3],[68.4,51.9],[30.0,21.5],[31.0,19.5],[32.5,23.0],[33.8,20.5],[35.0,22.5],[36.5,29.5],[38.0,25.5],[39.5,27.0],[41.0,31.5],[42.5,26.5],[44.0,29.0],[45.5,32.0],[42.0,21.8],[40.5,33.5],[37.0,19.0],[39.0,22.0],[46.0,27.0],[43.5,35.0],[48.5,28.0],
[34.0,24.5],[35.0,28.0],[36.0,25.0],[37.0,27.5],[37.8,30.2],[38.5,25.0],[39.2,28.0],[40.0,32.0],[40.8,27.5],[41.5,30.5],[42.2,28.0],[43.0,31.0],[43.8,28.5],[44.5,31.5],[39.6,24.5],[41.2,25.5],[38.2,33.0],[36.6,22.5],[42.6,34.2],[40.4,29.8],[35.6,30.4],[43.4,26.6],[37.4,20.6],[39.0,31.8],[41.8,32.6],[33.2,22.0],[45.2,28.2],[38.0,27.5],[40.0,26.5],[42.0,24.0]
];
const sid5CoreFilled: number[][] = [
[33.5,25.5],[34.2,28.0],[34.8,22.5],[35.4,25.5],[35.9,28.8],[36.4,24.0],[36.9,31.0],[37.4,26.0],[37.9,28.5],[38.4,23.0],[38.8,30.5],[39.4,26.0],[39.8,29.5],[40.3,34.0],[40.7,25.0],[41.2,28.5],[41.6,33.5],[42.0,30.0],[42.5,25.5],[43.0,29.2],[43.4,33.0],[43.9,30.0],[44.3,26.0],[44.8,35.0],[45.4,30.5],[35.2,33.0],[36.6,34.6],[37.6,22.0],[39.0,20.8],[40.4,22.6],[42.4,22.0],[38.6,35.6],[40.2,36.8],[42.0,35.6],[44.6,24.0],[46.4,33.6],[32.4,23.8],[31.8,27.0],[46.8,30.8],[38.2,31.8],
[30.8,24.0],[31.6,27.4],[32.8,30.0],[34.2,34.0],[35.8,36.2],[37.8,35.2],[39.6,37.0],[41.8,37.4],[43.8,36.6],[45.6,34.6],[46.8,32.2],[47.4,27.0],[46.2,23.0],[44.6,21.2],[42.8,20.6],[40.6,19.8],[38.4,21.8],[36.2,20.4],[34.0,19.0],[32.2,20.2],[44.0,33.6],[36.4,32.8]
];

// Axis ranges and titles
const xRanges: number[][] = [[-5, 70], [-50, 15], [20, 85], [10, 75]];
const yRanges: number[][] = [[6.6, 7.6], [6.6, 7.6], [0, 65], [0, 65]];
const yIntervals: number[] = [0.1, 0.1, 5, 5];
const xTitles: string[] = [
  "Anion gap (mEq/L)",
  "Strong ion gap (mEq/L)",
  "{b|SID}{sub|3}{b| (mEq/L)}",
  "{b|SID}{sub|5}{b| (mEq/L)}",
];
const yTitles: string[] = [
  "Venous blood pH",
  "Venous blood pH",
  "{b|HCO}{sub|3}{sup|–}{b| (mmol/L)}",
  "{b|HCO}{sub|3}{sup|–}{b| (mmol/L)}",
];

const FONT = "Liberation Sans, Arial, Helvetica, sans-serif";

export default function App() {
  const ref = useRef<HTMLDivElement>(null);
  useEffect(() => {
    if (!ref.current) return;
    const chart = echarts.init(ref.current, null, { renderer: "svg" });
    const grids = [
      { left: 75, top: 17.3, width: 426.7, height: 285.4 },
      { left: 75, top: 405.7, width: 427, height: 284.3 },
      { left: 76, top: 791.7, width: 427, height: 284.3 },
      { left: 76, top: 1181.7, width: 427, height: 284.3 },
    ];
    const rich = {
      b: { fontSize: 20, fontWeight: "bold", fontFamily: FONT, color: "#000", lineHeight: 26 },
      sub: { fontSize: 14, fontWeight: "bold", fontFamily: FONT, color: "#000", lineHeight: 14, verticalAlign: "bottom" },
      sup: { fontSize: 15, fontWeight: "bold", fontFamily: FONT, color: "#000", lineHeight: 15, verticalAlign: "top" },
    };
    const axisLine = { show: true, onZero: false, lineStyle: { color: "#000", width: 2 } };
    const axisTick = { show: true, length: 6, lineStyle: { color: "#000", width: 2 } };
    const labelStyle = { color: "#000", fontSize: 17, fontWeight: "bold", fontFamily: FONT };

    const xAxis = xRanges.map((r, i) => ({
      type: "value",
      gridIndex: i,
      min: r[0],
      max: r[1],
      interval: 5,
      axisLine,
      axisTick,
      splitLine: { show: false },
      axisLabel: {
        ...labelStyle,
        margin: 10,
        formatter: (v: number) => {
          const k = Math.round(v);
          return k % 10 === 0 ? String(k).replace("-", "–") : "";
        },
      },
      name: xTitles[i],
      nameLocation: "middle",
      nameGap: 36,
      nameTextStyle: { fontSize: 20, fontWeight: "bold", fontFamily: FONT, color: "#000", rich },
    }));

    const yAxis = yRanges.map((r, i) => ({
      type: "value",
      gridIndex: i,
      min: r[0],
      max: r[1],
      interval: yIntervals[i],
      axisLine,
      axisTick,
      splitLine: { show: false },
      axisLabel: {
        ...labelStyle,
        margin: 9,
        formatter: (v: number) => {
          if (i < 2) {
            const k = Math.round(v * 10);
            return k % 2 === 0 ? (k / 10).toFixed(1) : "";
          }
          const k = Math.round(v);
          return k % 10 === 0 ? String(k) : "";
        },
      },
      name: yTitles[i],
      nameLocation: "middle",
      nameGap: 31,
      nameTextStyle: { fontSize: 20, fontWeight: "bold", fontFamily: FONT, color: "#000", rich },
    }));

    const openSets = [
      agOpen.concat(agCoreOpen),
      sigOpen.concat(sigCoreOpen),
      sid3Open.concat(sid3CoreOpen),
      sid5Open.concat(sid5CoreOpen),
    ];
    const filledSets = [
      agFilled.concat(agCoreFilled),
      sigFilled.concat(sigCoreFilled),
      sid3Filled.concat(sid3CoreFilled),
      sid5Filled.concat(sid5CoreFilled),
    ];
    const series: any[] = [];
    openSets.forEach((d, i) => {
      series.push({
        type: "scatter",
        xAxisIndex: i,
        yAxisIndex: i,
        data: d,
        symbol: "circle",
        symbolSize: 6,
        itemStyle: { color: "rgba(255,255,255,0)", borderColor: "#000", borderWidth: 2.4 },
        emphasis: { disabled: true },
      });
      series.push({
        type: "scatter",
        xAxisIndex: i,
        yAxisIndex: i,
        data: filledSets[i],
        symbol: "circle",
        symbolSize: 6.5,
        itemStyle: { color: "#000" },
        emphasis: { disabled: true },
      });
    });

    chart.setOption({
      animation: false,
      backgroundColor: "#fff",
      grid: grids,
      xAxis,
      yAxis,
      series,
    });
    return () => chart.dispose();
  }, []);
  return (
    <div
      ref={ref}
      style={{ position: "absolute", left: 0, top: 0, width: 516, height: 1526, background: "#fff" }}
    />
  );
}
